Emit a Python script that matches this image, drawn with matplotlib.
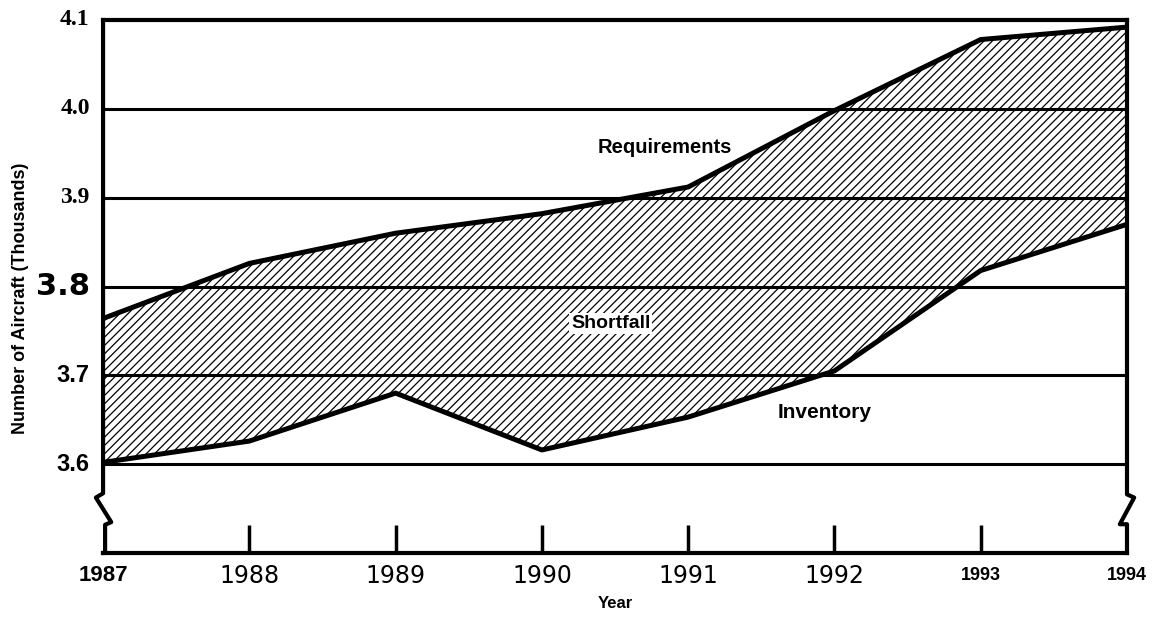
import matplotlib.pyplot as plt

# data
years = [1987, 1988, 1989, 1990, 1991, 1992, 1993, 1994]
requirements = [3.764, 3.826, 3.860, 3.882, 3.912, 3.998, 4.078, 4.092]
inventory = [3.602, 3.626, 3.680, 3.616, 3.653, 3.705, 3.818, 3.870]
y_ticks = [3.6, 3.7, 3.8, 3.9, 4.0, 4.1]

plt.rcParams['hatch.linewidth'] = 0.9

fig = plt.figure(figsize=(11.54, 6.17), dpi=100)
ax = fig.add_axes([0.0893, 0.1037, 0.8873, 0.8639])
ax.set_xlim(1987, 1994)
ax.set_ylim(3.5, 4.1)

# horizontal grid lines
for v in y_ticks[:-1]:
    ax.axhline(v, color='black', lw=2.2, zorder=2)

# shortfall band
ax.fill_between(years, inventory, requirements, facecolor='none',
                edgecolor='black', hatch='////', linewidth=0, zorder=1)
ax.plot(years, requirements, color='black', lw=3.6, zorder=3,
        solid_joinstyle='round')
ax.plot(years, inventory, color='black', lw=3.6, zorder=3,
        solid_joinstyle='round')

# frame: top and bottom spines, sides drawn by hand with break marks
for s in ['left', 'right']:
    ax.spines[s].set_visible(False)
ax.spines['top'].set_linewidth(3)
ax.spines['bottom'].set_linewidth(3)
t = ax.transAxes
ax.plot([0, 0, -0.007, 0.008, 0.002, 0.002, 0], [1, 0.112, 0.104, 0.058, 0.053, 0.0, 0.0],
        transform=t, color='black', lw=3, clip_on=False, zorder=4)
ax.plot([1, 1, 1.007, 0.993, 1.0, 1.0], [1, 0.110, 0.104, 0.054, 0.054, 0.0],
        transform=t, color='black', lw=3, clip_on=False, zorder=4)

# small inner ticks on the bottom axis
ax.tick_params(axis='x', direction='in', length=20, width=2.5, pad=12)
ax.set_xticks(years[1:-1])
ax.set_xticklabels([])
ax.tick_params(axis='y', length=0, pad=8)
ax.set_yticks(y_ticks)
ax.set_yticklabels([])

# y tick labels (mixed fonts as in the scan)
ylab_style = {
    4.1: dict(family='Liberation Serif', size=17, weight='bold'),
    4.0: dict(family='Liberation Serif', size=17, weight='bold'),
    3.9: dict(family='Liberation Serif', size=17, weight='bold'),
    3.8: dict(family='DejaVu Sans', size=22, weight='bold'),
    3.7: dict(family='Liberation Sans', size=17, weight='bold'),
    3.6: dict(family='Liberation Sans', size=17, weight='bold'),
}
for v in y_ticks:
    ax.text(-0.013, v, f'{v:.1f}', transform=ax.get_yaxis_transform(),
            ha='right', va='center', **ylab_style[v])

# x tick labels
for yr in years:
    if yr == 1987:
        st = dict(family='Liberation Sans', size=16, weight='bold')
    elif yr >= 1993:
        st = dict(family='Liberation Sans', size=13, weight='bold')
    else:
        st = dict(family='DejaVu Sans', size=17, weight='normal')
    ax.text(yr, -0.043, str(yr), transform=ax.get_xaxis_transform(),
            ha='center', va='center', **st)

ax.text(0.5, -0.095, 'Year', transform=ax.transAxes, ha='center', va='center',
        family='Liberation Sans', size=12, weight='bold')
fig.text(0.018, 0.517, 'Number of Aircraft (Thousands)', rotation=90,
         ha='center', va='center', family='Liberation Sans',
         size=13, weight='bold')

# annotations
ax.text(1990.84, 3.957, 'Requirements', ha='center', va='center',
        family='Liberation Sans', size=14.5, weight='bold')
ax.text(1990.47, 3.758, 'Shortfall', ha='center', va='center',
        family='Liberation Sans', size=14, weight='bold', zorder=5,
        bbox=dict(facecolor='white', edgecolor='none', pad=1.5))
ax.text(1991.93, 3.658, 'Inventory', ha='center', va='center',
        family='Liberation Sans', size=15, weight='bold')

fig.savefig('out.png', dpi=100)
